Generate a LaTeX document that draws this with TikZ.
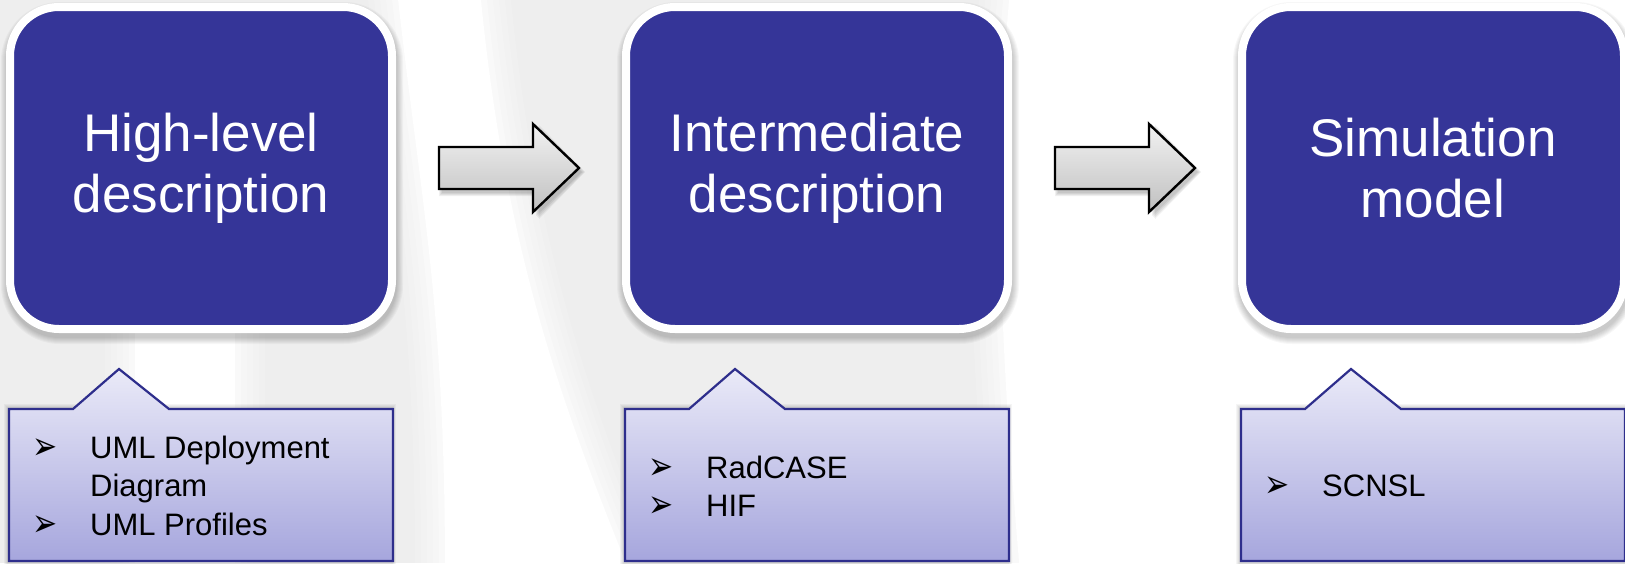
\documentclass[tikz,border=0pt]{standalone}
\usepackage{fontspec}
\setmainfont{Liberation Sans}
\newfontfamily\symfont{DejaVu Sans}
\usetikzlibrary{calc}

\definecolor{boxblue}{RGB}{53,53,152}
\definecolor{calloutedge}{RGB}{46,46,140}
\definecolor{callouttop}{RGB}{234,234,248}
\definecolor{calloutbot}{RGB}{166,166,221}
\definecolor{bggray}{RGB}{238,238,238}
\definecolor{arrowtop}{RGB}{242,242,242}
\definecolor{arrowbot}{RGB}{192,192,192}

\tikzset{
  stagebox/.style={draw=white, line width=8pt, fill=boxblue, rounded corners=49pt,
    minimum width=382pt, minimum height=322pt, outer sep=0pt, inner sep=0pt,
    align=center, text=white, font=\fontsize{53}{61}\selectfont},
  callout/.style={draw=calloutedge, line width=2.2pt, top color=callouttop,
    bottom color=calloutbot, line join=miter},
  notes/.style={anchor=west, align=left, inner sep=0pt, text=black,
    font=\fontsize{31}{38.5}\selectfont},
  blockarrow/.style={draw=black, line width=2.4pt, top color=arrowtop,
    bottom color=arrowbot, line join=miter},
}
\newcommand{\bul}{\makebox[58pt][l]{\raisebox{-1pt}{\scalebox{1}[1.3]{\symfont\fontsize{30}{30}\selectfont ➢}}}}

\begin{document}
\begin{tikzpicture}[x=1pt,y=-1pt]
\useasboundingbox (0,0) rectangle (1625,563);

% backdrop: light grey with soft white bands
\begin{scope}
  \clip (0,0) rectangle (1625,563);
  \fill[bggray] (0,0) rectangle (1625,563);
  \foreach \d/\o in {30/0.12, 24/0.15, 18/0.2, 12/0.25, 6/0.35, 0/1} {
    % band between the first two stages, widening downwards
    \fill[white, opacity=\o] (397-\d,-10) .. controls (420-\d,200) and (445-\d,300) .. (445-\d,573)
      -- (630+\d,573) .. controls (560+\d,400) and (505+\d,250) .. (480+\d,-10) -- cycle;
    % narrow band under the first stage
    \fill[white, opacity=\o] (135-\d,300) -- (135-\d,573) -- (235+\d,573) -- (235+\d,300) -- cycle;
    % open area on the right
    \fill[white, opacity=\o] (1010-\d,-10) .. controls (990-\d,200) and (1005-\d,400) .. (1020-\d,573)
      -- (1640,573) -- (1640,-10) -- cycle;
  }
\end{scope}

% soft shadows under the stage boxes
\foreach \cx in {201,817,1433} {
  \foreach \k in {0,...,6} {
    \fill[black, opacity=0.03, rounded corners=53+\k]
      (\cx-195-\k+1, 3-\k+5) rectangle (\cx+195+\k+1, 333+\k+5);
  }
}

% stage boxes
\node[stagebox] (hl) at (201,168) {High-level\\description};
\node[stagebox] (im) at (817,168) {Intermediate\\description};
\node[stagebox] (sm) at (1433,168) {Simulation\\model};

% block arrows between the stages
\coordinate (a1) at ($(hl.east)!0.5!(im.west)$);
\coordinate (a2) at ($(im.east)!0.5!(sm.west)$);
\foreach \a in {a1,a2} {
  \begin{scope}[shift={(\a)}]
    \foreach \k in {0,...,3} {
      \fill[black, opacity=0.06, xshift=3pt, yshift=-4pt]
        (-70-\k,-21-\k) -- (24+\k,-21-\k) -- (24+\k,-44-\k) -- (70+\k,0)
        -- (24+\k,44+\k) -- (24+\k,21+\k) -- (-70-\k,21+\k) -- cycle;
    }
    \draw[blockarrow] (-70,-21) -- (24,-21) -- (24,-44) -- (70,0)
      -- (24,44) -- (24,21) -- (-70,21) -- cycle;
  \end{scope}
}

% callouts below the stages
\foreach \L in {9,625,1241} {
  \foreach \k in {0,...,3} {
    \fill[black, opacity=0.04]
      (\L-2-\k,407-\k) -- (\L+384+\k,407-\k) -- (\L+384+\k,565) -- (\L-2-\k,565) -- cycle;
  }
  \draw[callout] (\L,409) -- (\L+64,409) -- (\L+110,369) -- (\L+160,409)
    -- (\L+384,409) -- (\L+384,561) -- (\L,561) -- cycle;
}

\node[notes] (n1) at (32,486) {\bul UML Deployment\\\hspace*{58pt}Diagram\\\bul UML Profiles};
\node[notes] (n2) at (648,487) {\bul RadCASE\\\bul HIF};
\node[notes] (n3) at (1264,486) {\bul SCNSL};
\end{tikzpicture}
\end{document}
